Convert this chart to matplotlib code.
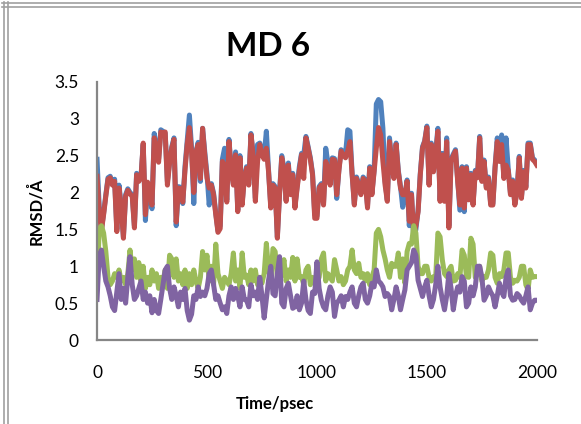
import numpy as np
import matplotlib
matplotlib.use('Agg')
import matplotlib.pyplot as plt
from matplotlib.lines import Line2D

plt.rcParams['font.family'] = ['Lato', 'DejaVu Sans']

# time axis, one sample every 10 psec
time_ps = np.arange(0, 2001, 10)

# RMSD traces (Å)
rmsd_blue = [
    2.45, 1.80, 1.50, 1.72, 1.97, 2.20, 2.22, 2.12, 2.18, 1.50,
    2.10, 1.82, 1.40, 1.97, 2.05, 2.00, 1.97, 1.55, 2.26, 2.17,
    2.22, 2.65, 1.62, 2.10, 1.95, 1.78, 2.80, 2.62, 2.45, 2.85,
    2.83, 2.80, 2.15, 2.42, 2.62, 2.74, 1.55, 2.08, 2.07, 1.85,
    2.35, 2.70, 3.05, 2.60, 1.85, 2.55, 2.68, 2.15, 2.87, 2.55,
    2.25, 1.83, 2.12, 1.99, 1.72, 1.48, 1.55, 2.45, 2.60, 1.90,
    2.72, 2.33, 2.12, 2.55, 1.76, 2.50, 1.86, 2.22, 2.35, 2.12,
    2.80, 2.52, 1.92, 2.65, 2.67, 2.55, 2.50, 2.83, 2.30, 1.82,
    2.12, 2.08, 1.40, 2.00, 2.50, 2.32, 1.90, 2.40, 2.00, 2.26,
    1.82, 2.08, 2.35, 2.53, 2.51, 2.76, 2.62, 2.47, 2.26, 1.70,
    1.68, 2.08, 2.12, 1.86, 2.60, 2.40, 2.12, 2.47, 2.46, 1.92,
    2.32, 2.58, 2.55, 2.52, 2.85, 2.83, 2.26, 1.85, 2.21, 2.12,
    1.99, 2.21, 2.17, 1.82, 2.35, 1.99, 2.30, 3.20, 3.26, 3.23,
    2.87, 2.15, 1.90, 2.74, 2.42, 2.22, 2.67, 2.30, 2.08, 1.80,
    1.95, 2.17, 1.55, 1.99, 1.38, 1.50, 1.76, 2.26, 2.62, 2.70,
    2.90, 2.12, 2.67, 2.30, 2.55, 2.87, 1.90, 2.53, 1.90, 2.74,
    1.55, 2.45, 2.52, 2.58, 2.17, 1.76, 2.35, 1.74, 2.35, 1.92,
    2.26, 1.85, 2.30, 2.22, 2.76, 2.17, 2.44, 2.08, 2.21, 1.85,
    1.85, 2.35, 2.74, 2.45, 2.78, 2.21, 2.74, 2.32, 1.99, 2.17,
    1.85, 2.03, 2.49, 1.94, 2.30, 2.08, 2.67, 2.67, 2.47, 2.44,
    2.39,
]

rmsd_red = [
    2.22, 1.75, 1.48, 1.70, 1.95, 2.18, 2.20, 2.10, 2.15, 1.47,
    2.06, 1.80, 1.38, 1.95, 2.03, 1.98, 1.95, 1.52, 2.24, 2.15,
    2.20, 2.67, 1.70, 2.14, 2.00, 1.83, 2.74, 2.60, 2.41, 2.82,
    2.80, 2.82, 2.10, 2.40, 2.60, 2.72, 1.60, 2.06, 2.05, 1.87,
    2.30, 2.65, 2.88, 2.55, 2.00, 2.55, 2.65, 2.19, 2.87, 2.50,
    2.20, 2.06, 2.10, 1.97, 1.70, 1.46, 1.51, 2.42, 2.37, 1.87,
    2.69, 2.30, 2.10, 2.51, 1.74, 2.47, 1.83, 2.20, 2.33, 2.10,
    2.78, 2.50, 1.88, 2.42, 2.65, 2.51, 2.45, 2.60, 2.28, 1.79,
    2.10, 2.06, 1.38, 1.97, 2.47, 2.30, 1.88, 2.37, 1.97, 2.24,
    1.79, 2.06, 2.30, 2.51, 2.19, 2.74, 2.60, 2.45, 2.24, 1.65,
    1.65, 2.06, 2.10, 1.83, 2.42, 2.33, 2.10, 2.45, 2.44, 1.97,
    2.30, 2.56, 2.51, 2.47, 2.56, 2.69, 2.24, 1.83, 2.19, 2.10,
    1.97, 2.19, 2.15, 1.79, 2.33, 1.97, 2.28, 2.60, 2.88, 2.78,
    2.42, 2.10, 1.88, 2.69, 2.40, 2.19, 2.65, 2.28, 2.06, 1.97,
    1.97, 2.15, 1.61, 1.97, 1.43, 1.55, 1.74, 2.24, 2.60, 2.69,
    2.88, 2.10, 2.65, 2.28, 2.50, 2.83, 1.88, 2.51, 1.88, 2.69,
    1.52, 2.42, 2.50, 2.56, 2.15, 1.83, 2.33, 1.79, 2.33, 1.90,
    2.24, 1.83, 2.28, 2.20, 2.74, 2.15, 2.42, 2.06, 2.19, 1.83,
    1.83, 2.33, 2.69, 2.42, 2.65, 2.19, 2.37, 2.30, 1.97, 2.15,
    1.83, 2.01, 2.47, 1.92, 2.28, 2.06, 2.65, 2.65, 2.45, 2.42,
    2.37,
]

rmsd_green = [
    0.75, 1.50, 1.55, 1.45, 1.20, 0.85, 0.75, 0.80, 0.90, 0.85,
    0.95, 0.80, 0.85, 0.75, 0.90, 1.22, 0.95, 1.10, 0.85, 1.05,
    0.80, 1.00, 0.70, 0.85, 0.75, 0.95, 0.80, 0.90, 0.70, 0.85,
    0.80, 0.95, 0.70, 1.15, 1.10, 0.85, 1.10, 0.80, 0.90, 0.75,
    0.95, 0.70, 0.90, 0.75, 0.95, 0.80, 0.70, 0.85, 1.20, 0.95,
    1.15, 0.80, 1.00, 0.75, 1.30, 0.90, 0.80, 0.70, 0.85, 0.80,
    0.75, 0.90, 1.18, 0.80, 0.95, 0.70, 1.18, 0.85, 0.88, 0.75,
    0.95, 0.80, 0.95, 0.75, 0.85, 0.77, 0.90, 1.31, 0.95, 0.80,
    1.24, 1.20, 0.85, 0.80, 0.90, 1.09, 0.80, 0.95, 0.85, 1.12,
    0.80, 1.10, 0.85, 0.86, 0.75, 0.95, 1.00, 0.75, 0.85, 0.80,
    0.80, 0.85, 1.10, 1.18, 0.80, 0.90, 0.85, 0.80, 1.09, 0.95,
    0.80, 0.86, 0.75, 0.80, 0.95, 1.00, 1.22, 0.95, 0.90, 1.04,
    0.85, 0.90, 0.80, 0.90, 0.75, 0.85, 0.95, 1.45, 1.50, 1.40,
    1.22, 1.10, 0.95, 0.85, 1.04, 1.00, 1.00, 1.18, 0.85, 1.10,
    0.77, 1.20, 1.31, 1.30, 1.55, 1.45, 1.00, 0.90, 0.90, 1.00,
    1.00, 0.85, 0.80, 0.86, 0.85, 1.45, 1.40, 1.09, 0.90, 0.86,
    0.95, 1.00, 0.80, 0.81, 0.90, 0.85, 1.22, 1.15, 0.86, 0.85,
    1.38, 1.30, 0.85, 0.90, 1.00, 0.80, 0.86, 0.85, 0.95, 1.18,
    1.15, 0.85, 0.77, 0.90, 0.86, 0.95, 1.18, 1.18, 0.85, 0.77,
    0.81, 0.80, 0.85, 1.00, 1.00, 0.75, 0.68, 0.95, 0.85, 0.86,
    0.86,
]

rmsd_purple = [
    0.55, 1.15, 1.22, 1.00, 0.80, 0.72, 0.60, 0.45, 0.40, 0.65,
    0.90, 0.55, 0.70, 0.50, 0.85, 1.13, 0.75, 0.55, 0.60, 0.70,
    0.80, 0.55, 0.65, 0.50, 0.60, 0.37, 0.55, 0.40, 0.36, 0.55,
    0.75, 0.95, 1.00, 0.70, 0.55, 0.72, 0.60, 0.45, 0.65, 0.55,
    0.70, 0.40, 0.27, 0.35, 0.60, 0.55, 0.72, 0.59, 0.65, 0.60,
    0.70, 0.90, 0.95, 0.75, 0.55, 0.60, 0.50, 0.41, 0.45, 0.36,
    0.60, 0.72, 0.55, 0.70, 0.60, 0.45, 0.72, 0.55, 0.54, 0.45,
    0.75, 0.60, 0.65, 0.55, 0.85, 0.60, 0.30, 0.55, 0.81, 1.00,
    0.63, 0.60, 0.90, 1.13, 0.50, 0.45, 0.70, 0.77, 0.60, 0.43,
    0.45, 0.60, 0.41, 0.50, 0.80, 0.55, 0.40, 0.36, 0.65, 0.63,
    1.06, 0.70, 0.54, 0.45, 0.41, 0.60, 0.72, 0.65, 0.32, 0.50,
    0.54, 0.60, 0.45, 0.59, 0.55, 0.65, 0.72, 0.50, 0.45, 0.60,
    0.72, 0.77, 0.55, 0.50, 0.60, 0.77, 0.72, 0.95, 0.80, 0.77,
    0.72, 0.59, 0.63, 0.59, 0.41, 0.55, 0.72, 0.60, 0.41, 0.55,
    0.68, 0.95, 1.00, 1.05, 1.22, 1.15, 0.81, 0.70, 0.59, 0.72,
    0.81, 0.60, 0.45, 0.55, 0.75, 1.00, 0.72, 0.55, 0.41, 0.60,
    0.90, 0.70, 0.41, 0.60, 0.72, 0.65, 0.86, 0.80, 0.45, 0.50,
    0.72, 0.60, 0.72, 1.00, 1.00, 0.85, 0.54, 0.60, 0.72, 0.65,
    0.60, 0.45, 0.60, 0.77, 0.65, 0.59, 0.85, 0.95, 0.60, 0.54,
    0.55, 0.63, 0.60, 0.54, 0.50, 0.60, 0.72, 0.41, 0.50, 0.54,
    0.54,
]

x_ticks = [0, 500, 1000, 1500, 2000]
y_ticks = [0, 0.5, 1, 1.5, 2, 2.5, 3, 3.5]
y_tick_labels = ['0', '0.5', '1', '1.5', '2', '2.5', '3', '3.5']

fig = plt.figure(figsize=(5.81, 4.24), dpi=100)
ax = fig.add_axes([0.167, 0.198, 0.757, 0.609])

lw = 3.6
ax.plot(time_ps, rmsd_blue, color='#4F81BD', lw=lw, solid_joinstyle='round')
ax.plot(time_ps, rmsd_red, color='#C0504D', lw=lw, solid_joinstyle='round')
ax.plot(time_ps, rmsd_green, color='#9BBB59', lw=lw, solid_joinstyle='round')
ax.plot(time_ps, rmsd_purple, color='#8064A2', lw=lw, solid_joinstyle='round')

ax.set_xlim(0, 2000)
ax.set_ylim(0, 3.5)
ax.set_xticks(x_ticks)
ax.set_yticks(y_ticks)
ax.set_yticklabels(y_tick_labels)
ax.tick_params(axis='both', length=0, labelsize=12.5)
ax.tick_params(axis='x', pad=18)
ax.tick_params(axis='y', pad=13)

for side in ['top', 'right']:
    ax.spines[side].set_visible(False)
for side in ['left', 'bottom']:
    ax.spines[side].set_color('#868686')
    ax.spines[side].set_linewidth(1.6)

# titles placed in figure space
fig.text(268 / 581, 1 - 46 / 424, 'MD 6', ha='center', va='center',
         fontsize=24, fontweight='bold')
fig.text(275 / 581, 1 - 404 / 424, 'Time/psec', ha='center', va='center',
         fontsize=12, fontweight='bold')
fig.text(36 / 581, 1 - 211 / 424, 'RMSD/Å', ha='center', va='center',
         fontsize=12, fontweight='bold', rotation=90)

# double frame lines along the top and left edge
for pos in [3.5, 7.5]:
    fig.add_artist(Line2D([pos / 581, pos / 581], [0, 1 - 2 / 424],
                          transform=fig.transFigure, color='#a0a0a0', lw=1.2))
for pos in [2.5, 6.5]:
    fig.add_artist(Line2D([2 / 581, 1], [1 - pos / 424, 1 - pos / 424],
                          transform=fig.transFigure, color='#a0a0a0', lw=1.2))

fig.savefig('out.png', dpi=100)
